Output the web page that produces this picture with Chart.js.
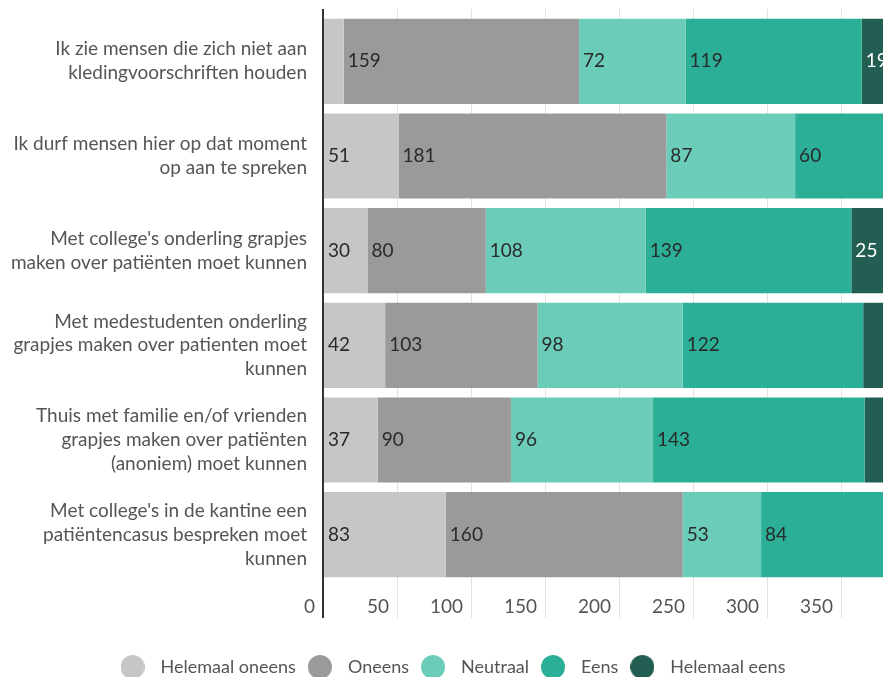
<!DOCTYPE html>
<html>
<head>
<meta charset="utf-8">
<script src="https://cdn.jsdelivr.net/npm/chart.js@4"></script>
<style>
  html, body { margin: 0; padding: 0; overflow: hidden; background: #fff; }
  #wrap { position: absolute; left: -16px; top: 0; width: 931px; height: 700px; }
</style>
</head>
<body>
<div id="wrap"><canvas id="myChart"></canvas></div>
<script>
var categories = [
  ["Ik zie mensen die zich niet aan", "kledingvoorschriften houden"],
  ["Ik durf mensen hier op dat moment", "op aan te spreken"],
  ["Met college's onderling grapjes", "maken over patiënten moet kunnen"],
  ["Met medestudenten onderling", "grapjes maken over patienten moet", "kunnen"],
  ["Thuis met familie en/of vrienden", "grapjes maken over patiënten", "(anoniem) moet kunnen"],
  ["Met college's in de kantine een", "patiëntencasus bespreken moet", "kunnen"],
];
var seriesNames = ["Helemaal oneens", "Oneens", "Neutraal", "Eens", "Helemaal eens"];
var helemaalOneens = [14, 51, 30, 42, 37, 83];
var oneens = [159, 181, 80, 103, 90, 160];
var neutraal = [72, 87, 108, 98, 96, 53];
var eens = [119, 60, 139, 122, 143, 84];
var helemaalEens = [19, 4, 25, 18, 17, 3];
var tickStep = 50;

var colors = ["#c6c6c6", "#9a9a9a", "#6bcdb9", "#2bb097", "#235e52"];
var labelColors = ["#2a2a2a", "#2a2a2a", "#2a2a2a", "#2a2a2a", "#fff"];
var series = [helemaalOneens, oneens, neutraal, eens, helemaalEens];
var font = "Lato, 'Liberation Sans', sans-serif";

// nice max from the row totals, shared by both x axes
var totals = categories.map(function (c, i) {
  return series.reduce(function (s, d) { return s + d[i]; }, 0);
});
var xMax = Math.ceil(Math.max.apply(null, totals) / tickStep) * tickStep;

// round legend markers
function dot(color) {
  var c = document.createElement("canvas");
  c.width = 24; c.height = 24;
  var g = c.getContext("2d");
  g.fillStyle = color;
  g.beginPath();
  g.arc(12, 12, 12, 0, Math.PI * 2);
  g.fill();
  return c;
}

var gridColor = function (ctx) { return ctx.index === 0 ? "#333" : "#e2e2e2"; };
var gridWidth = function (ctx) { return ctx.index === 0 ? 2 : 1; };

var valueLabels = {
  id: "valueLabels",
  afterDatasetsDraw: function (chart) {
    var ctx = chart.ctx;
    ctx.save();
    ctx.font = "19px " + font;
    ctx.textBaseline = "middle";
    ctx.textAlign = "left";
    chart.data.datasets.forEach(function (ds, i) {
      chart.getDatasetMeta(i).data.forEach(function (bar, j) {
        var txt = String(ds.data[j]);
        var w = bar.x - bar.base;
        if (w < ctx.measureText(txt).width + 6) return;
        ctx.fillStyle = labelColors[i];
        ctx.fillText(txt, bar.base + 4, bar.y);
      });
    });
    ctx.restore();
  },
};

var ctx1 = document.getElementById("myChart").getContext("2d");
var myChart1 = new Chart(ctx1, {
  type: "bar",
  data: {
    labels: categories,
    datasets: series.map(function (d, i) {
      return {
        label: seriesNames[i],
        data: d,
        backgroundColor: colors[i],
        pointStyle: dot(colors[i]),
        categoryPercentage: 1,
        barPercentage: 0.9,
      };
    }),
  },
  options: {
    indexAxis: "y",
    responsive: true,
    maintainAspectRatio: false,
    animation: false,
    layout: { padding: { top: 9, bottom: 14, left: 0, right: 0 } },
    scales: {
      x: {
        stacked: true,
        min: 0,
        max: xMax,
        border: { display: false },
        grid: { color: gridColor, lineWidth: gridWidth, tickLength: 36 },
        ticks: {
          stepSize: tickStep,
          align: "end",
          labelOffset: -8,
          padding: -23,
          color: "#555",
          font: { family: font, size: 19 },
          callback: function (v) { return v === xMax ? "" : v; },
        },
        afterFit: function (s) { s.height = 71; },
      },
      x2: {
        position: "top",
        min: 0,
        max: xMax,
        border: { display: false },
        grid: { color: gridColor, lineWidth: gridWidth, tickLength: 5, drawOnChartArea: false },
        ticks: { stepSize: tickStep, display: false },
        afterFit: function (s) { s.height = 5; },
      },
      y: {
        stacked: true,
        grid: { display: false, drawTicks: false },
        border: { display: true, color: "#333", width: 2 },
        ticks: {
          padding: 16,
          color: "#555",
          font: { family: font, size: 19, lineHeight: 1.26 },
        },
        afterFit: function (s) {
          s.width = 339;
          s.paddingTop = 0;
          s.paddingBottom = 0;
        },
      },
    },
    plugins: {
      tooltip: { enabled: false },
      legend: {
        position: "bottom",
        labels: {
          usePointStyle: true,
          pointStyleWidth: 38,
          padding: 5,
          color: "#555",
          font: { family: font, size: 18 },
        },
      },
    },
  },
  plugins: [valueLabels],
});
</script>
</body>
</html>
